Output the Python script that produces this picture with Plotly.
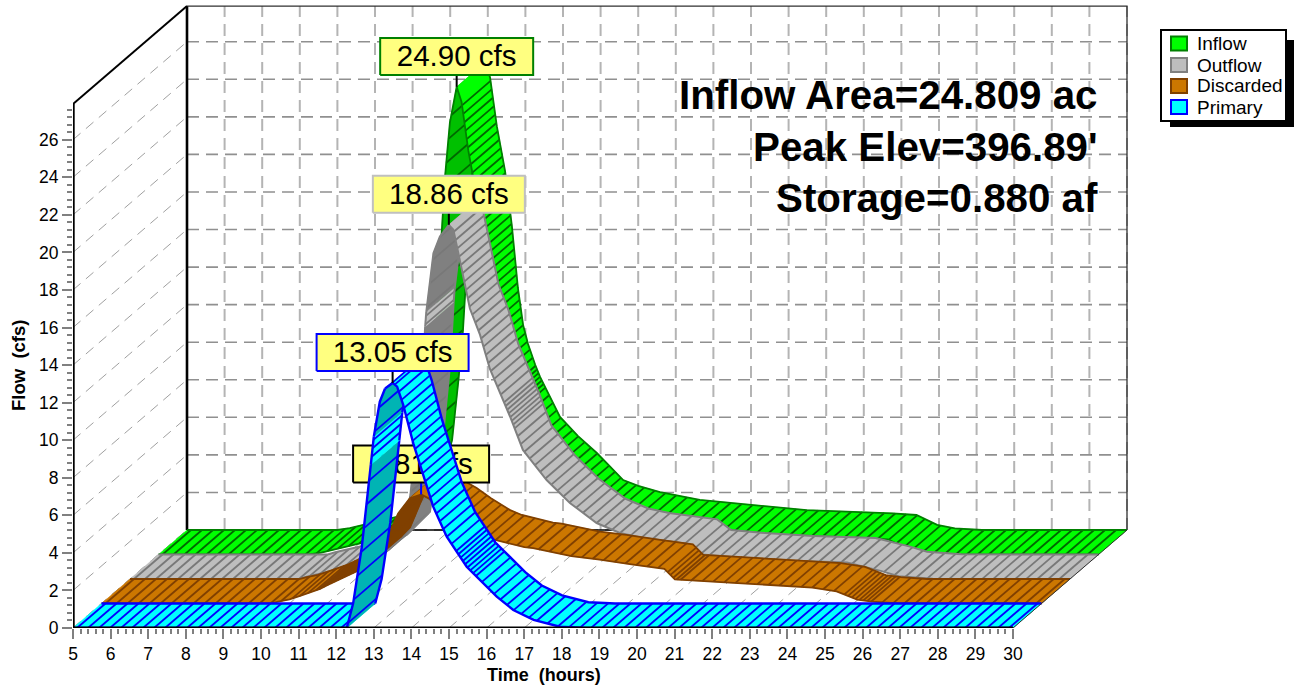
import numpy as np
import plotly.graph_objects as go

# ---------- data ----------
T_INFLOW = [5, 9.0, 9.33, 10.58, 11, 11.5, 11.8, 12.05, 12.22, 12.34, 12.53, 12.62, 12.66, 12.75, 12.93, 13.06, 13.24,
            13.46, 13.64, 13.8, 13.94, 14.07, 14.26, 14.39, 14.92, 15.4, 15.9, 16.6, 17.0, 17.58, 18.64, 20.02,
            21.48, 23.77, 24.4, 24.95, 25.42, 26.14, 30]
V_INFLOW = [0, 0, .1, .7, 1.0, 1.7, 3, 4.79, 8, 10.65, 17.45, 20.1, 21, 23, 24.9, 24.1, 21.5,
            19.1, 16.2, 12.9, 10.9, 9.9, 8.8, 8.15, 6.02, 5.0, 4.1, 2.66, 2.35, 2.02, 1.6, 1.33,
            1.06, .89, .8, .27, .09, 0, 0]
T_OUTFLOW = [5, 9.5, 9.7, 10.36, 11.0, 11.6, 12.22, 12.27, 12.45, 12.6, 12.75, 12.85, 12.88, 13.07, 13.24, 13.48, 13.6,
             13.78, 14.04, 14.31, 14.57, 15.11, 15.45, 16.08, 16.70, 17.41, 18.03, 18.58, 19.86, 20.23, 21.13, 22.42,
             24.07, 24.99, 25.44, 26.35, 30]
V_OUTFLOW = [0, 0, .12, .41, .72, 1.04, 2.28, 2.99, 4.38, 7, 10, 13.43, 14.23, 17.34, 18.23, 18.86, 18.6,
             16.9, 14.4, 13.0, 11.2, 8.64, 6.87, 5.27, 4.05, 2.98, 2.45, 2.21, 1.87, 1.30, 1.14, .99,
             .88, .42, .15, .01, 0]
T_DISCARDED = [5, 9.5, 9.7, 10.0, 10.3, 10.81, 11.03, 11.6, 11.82, 12.22, 12.45, 12.71, 12.89, 13.2, 13.5, 13.7, 13.95,
               14.22, 14.6, 15.11, 15.42, 16.25, 16.48, 17.5, 18.25, 19.1, 19.97, 20.25, 21.17, 22.26, 23.91, 24.55,
               25.1, 25.5, 26.2, 30]
V_DISCARDED = [0, 0, .1, .22, .42, .78, 1.0, 1.55, 1.75, 2.28, 2.75, 4.0, 4.8, 5.6, 5.81, 5.6, 5.15,
               4.85, 4.3, 3.67, 3.41, 3.0, 2.95, 2.52, 2.34, 2.08, 1.85, 1.28, 1.19, 1.05, .85, .65,
               .21, .1, 0, 0]
T_PRIMARY = [5, 12.28, 12.45, 12.68, 12.85, 12.92, 13.0, 13.16, 13.3, 13.5, 13.62, 13.78, 14.05, 14.32, 14.58, 14.94,
             15.47, 16.27, 16.71, 17.25, 17.95, 18.66, 30]
V_PRIMARY = [0, 0, 1.3, 4.3, 7.5, 8.68, 10.19, 12.05, 12.75, 13.05, 12.85, 11.9, 9.83, 8.06, 6.46, 4.86,
             3.26, 1.67, .96, .43, .07, 0, 0]

NAMES = ["Inflow", "Outflow", "Discarded", "Primary"]
PEAK_T = [12.93, 13.48, 13.5, 13.5]
PEAK_V = [24.90, 18.86, 5.81, 13.05]
X_TICKS = list(range(5, 31))
Y_TICKS = list(range(0, 27, 2))
NOTES = ["Inflow Area=24.809 ac", "Peak Elev=396.89'", "Storage=0.880 af"]

# ---------- styles / geometry ----------
W, H = 1294, 686
X0, Y0 = 73, 628            # pixel of (5 h, 0 cfs)
SX, SY = 37.6, 18.78        # pixels per hour / per cfs
DEPTH_PX = (28.5, 24.5)     # one ribbon's depth in pixels
LAYERS = 4
DX, DY = DEPTH_PX[0] / SX, DEPTH_PX[1] / SY
Y_TOP = 27.9
FONT = "Liberation Sans"

STYLE = {
    "Inflow":    dict(layer=3, fill="#00FF00", dark="#00C000", edge="#008000", hatch="#006800", ew=1.8, hw=1.8,
                      band=None, dense=[(14.2, 14.5)], box="#008000", lead="#000000"),
    "Outflow":   dict(layer=2, fill="#BEBEBE", dark="#808080", edge="#808080", hatch="#787878", ew=2, hw=1.8,
                      band=(12.85, 12.88), dense=[(14.9, 15.2)], box="#C0C0C0", lead="#000000"),
    "Discarded": dict(layer=1, fill="#CC7700", dark="#804000", edge="#804000", hatch="#804000", ew=1.8, hw=1.8,
                      band=None, dense=[(10.6, 11.8), (19.97, 20.3), (24.5, 25.4)], box="#000000", lead="#0000FF"),
    "Primary":   dict(layer=0, fill="#00FFFF", dark="#00B4B4", edge="#0000FF", hatch="#0000FF", ew=2.4, hw=1.8,
                      band=(12.92, 13.0), dense=[(15.1, 15.7)], box="#0000FF", lead="#000000"),
}
SERIES = {"Inflow": (T_INFLOW, V_INFLOW), "Outflow": (T_OUTFLOW, V_OUTFLOW),
          "Discarded": (T_DISCARDED, V_DISCARDED), "Primary": (T_PRIMARY, V_PRIMARY)}
BOX_W = {"Inflow": 153, "Outflow": 152, "Discarded": 136, "Primary": 152}
BOX_H, BOX_GAP = 37, 12


def line(xs, ys, color, width, dash=None):
    return go.Scatter(x=xs, y=ys, mode="lines", line=dict(color=color, width=width, dash=dash),
                      hoverinfo="skip", showlegend=False, cliponaxis=False)


fig = go.Figure()

# ---------- walls and floor ----------
dep_x, dep_y = LAYERS * DX, LAYERS * DY
gx, gy = [], []
for v in Y_TICKS:
    gx += [5 + dep_x, 30 + dep_x, None]
    gy += [v + dep_y, v + dep_y, None]
fig.add_trace(line(gx, gy, "#909090", 1.6, "12px,7px"))
gx, gy = [], []
for t in X_TICKS:
    gx += [t + dep_x, t + dep_x, None]
    gy += [dep_y, Y_TOP + dep_y, None]
fig.add_trace(line(gx, gy, "#B4B4B4", 2, "12px,7px"))
gx, gy = [], []
for v in Y_TICKS:
    gx += [5, 5 + dep_x, None]
    gy += [v, v + dep_y, None]
for t in X_TICKS:
    gx += [t, t + dep_x, None]
    gy += [0, dep_y, None]
fig.add_trace(line(gx, gy, "#A0A0A0", 1, "10px,7px"))
fig.add_trace(line([5 + dep_x, 5 + dep_x], [dep_y, Y_TOP + dep_y], "#000000", 2.6))
fig.add_trace(line([5 + dep_x, 30 + dep_x, 30 + dep_x], [Y_TOP + dep_y, Y_TOP + dep_y, dep_y], "#303030", 1.3))
fig.add_trace(line([5 + dep_x, 30 + dep_x], [dep_y, dep_y], "#000000", 1.6))
fig.add_trace(line([5, 5 + dep_x], [Y_TOP, Y_TOP + dep_y], "#000000", 2))


# ---------- ribbons ----------
def faces(t, v, band):
    """True for each segment whose upper surface faces the viewer."""
    dt, dv = np.diff(t) * SX, np.diff(v) * SY
    light = dt * DEPTH_PX[1] - dv * DEPTH_PX[0] >= 0
    if band:
        light = light | ((t[:-1] >= band[0] - 1e-9) & (t[1:] <= band[1] + 1e-9))
    return light


def runs(mask):
    out, i = [], 0
    while i < len(mask):
        j = i
        while j + 1 < len(mask) and mask[j + 1] == mask[i]:
            j += 1
        out.append((i, j + 1, bool(mask[i])))
        i = j + 1
    return out


def hatch_positions(t, v, light, dense):
    """Walk along the curve in pixels and return the hatch stations (segment, t, v)."""
    dt, dv = np.diff(t) * SX, np.diff(v) * SY
    seg = np.hypot(dt, dv)
    arc = np.concatenate([[0], np.cumsum(seg)])
    pos = []
    s = 4.0
    while s < arc[-1]:
        i = min(int(np.searchsorted(arc, s, side="right")) - 1, len(seg) - 1)
        f = (s - arc[i]) / seg[i]
        ht, hv = t[i] + f * (t[i + 1] - t[i]), v[i] + f * (v[i + 1] - v[i])
        pos.append((i, ht, hv))
        if not light[i]:
            s += 24
        elif any(a <= ht <= b for a, b in dense):
            s += 4
        elif abs(dv[i]) > 0.3 * dt[i]:
            s += 8.5
        else:
            s += 11
    return pos


for name in NAMES:
    st = STYLE[name]
    t = np.array(SERIES[name][0], float)
    v = np.array(SERIES[name][1], float)
    fx, fy = t + st["layer"] * DX, v + st["layer"] * DY
    bx, by = fx + DX, fy + DY
    light = faces(t, v, st["band"])
    hp = hatch_positions(t, v, light, st["dense"])
    # painted in time order: each later stretch covers the earlier ones
    for a, b, is_light in runs(light):
        color = st["fill"] if is_light else st["dark"]
        fig.add_trace(go.Scatter(x=list(fx[a:b + 1]) + list(bx[a:b + 1][::-1]) + [fx[a]],
                                 y=list(fy[a:b + 1]) + list(by[a:b + 1][::-1]) + [fy[a]],
                                 mode="lines", fill="toself", fillcolor=color,
                                 line=dict(color=color, width=0.5), hoverinfo="skip",
                                 showlegend=False, cliponaxis=False, name=name))
        hx, hy = [], []
        for i, ht, hv in hp:
            if a <= i < b:
                x0, y0 = ht + st["layer"] * DX, hv + st["layer"] * DY
                hx += [x0, x0 + DX, None]
                hy += [y0, y0 + DY, None]
        if hx:
            fig.add_trace(line(hx, hy, st["hatch"], st["hw"]))
        fig.add_trace(line(list(fx[a:b + 1]) + [None] + list(bx[a:b + 1]),
                           list(fy[a:b + 1]) + [None] + list(by[a:b + 1]), st["edge"], st["ew"]))

    # peak label, drawn here so that nearer ribbons can cover it
    k = NAMES.index(name)
    pk_x = PEAK_T[k] + st["layer"] * DX
    pk_y = PEAK_V[k] + st["layer"] * DY
    hw = BOX_W[name] / 2 / SX
    y_lo = pk_y + BOX_GAP / SY
    y_hi = y_lo + BOX_H / SY
    fig.add_trace(line([pk_x, pk_x], [pk_y, y_lo], st["lead"], 2))
    fig.add_trace(go.Scatter(x=[pk_x - hw, pk_x + hw, pk_x + hw, pk_x - hw, pk_x - hw],
                             y=[y_lo, y_lo, y_hi, y_hi, y_lo], mode="lines", fill="toself",
                             fillcolor="#FFFF80", line=dict(color=st["box"], width=2),
                             hoverinfo="skip", showlegend=False, cliponaxis=False))
    fig.add_trace(go.Scatter(x=[pk_x], y=[(y_lo + y_hi) / 2 - 2.5 / SY], mode="text",
                             text=[f"{PEAK_V[k]:.2f} cfs"], textposition="middle center",
                             textfont=dict(family=FONT, size=29.5, color="#000000"),
                             hoverinfo="skip", showlegend=False, cliponaxis=False))

# ---------- front axis lines, over the ribbons ----------
fig.add_trace(line([5, 5], [0, Y_TOP], "#000000", 3.4))
fig.add_trace(line([5, 30], [0, 0], "#000000", 3))
fig.add_trace(line([30, 30 + dep_x], [0, dep_y], "#303030", 1))

# ---------- axes ----------
tick_c = "#808080"
fig.update_xaxes(range=[5, 5 + (W - X0) / SX], tickmode="array", tickvals=X_TICKS,
                 ticktext=[str(t) for t in X_TICKS], ticks="outside", ticklen=10, tickwidth=2, tickcolor=tick_c,
                 tickfont=dict(family=FONT, size=17.5, color="#000000"), tickangle=0,
                 showgrid=False, zeroline=False, showline=False, automargin=False,
                 minor=dict(tickmode="array", tickvals=[round(x, 1) for x in np.arange(5, 30.01, 0.2)],
                            ticks="outside", ticklen=5, tickwidth=2, tickcolor=tick_c, showgrid=False))
fig.update_yaxes(range=[0, Y0 / SY], tickmode="array", tickvals=Y_TICKS,
                 ticktext=[str(v) for v in Y_TICKS], ticks="outside", ticklen=10, tickwidth=2, tickcolor=tick_c,
                 tickfont=dict(family=FONT, size=17.5, color="#000000"),
                 showgrid=False, zeroline=False, showline=False, automargin=False,
                 minor=dict(tickmode="array", tickvals=[round(x, 1) for x in np.arange(0, Y_TOP, 0.4)],
                            ticks="outside", ticklen=5, tickwidth=2, tickcolor=tick_c, showgrid=False))


def px(x):
    return (x - X0) / (W - X0)


def py(y):
    return (Y0 - y) / Y0


ann = []
shapes = []
for txt, y in zip(NOTES, (96, 147, 198)):
    ann.append(dict(x=px(1100), y=py(y), xref="paper", yref="paper", text=f"<b>{txt}</b>", showarrow=False,
                    xanchor="right", yanchor="middle", font=dict(family=FONT, size=40.3, color="#000000")))
ann.append(dict(x=px(544), y=py(675), xref="paper", yref="paper", text="<b>Time\u00a0\u00a0(hours)</b>",
                showarrow=False, xanchor="center", yanchor="middle", font=dict(family=FONT, size=18, color="#000000")))
ann.append(dict(x=px(18), y=py(366), xref="paper", yref="paper", text="<b>Flow\u00a0\u00a0(cfs)</b>", textangle=-90,
                showarrow=False, xanchor="center", yanchor="middle", font=dict(family=FONT, size=18.5, color="#000000")))

# legend panel
shapes.append(dict(type="rect", xref="paper", yref="paper", x0=px(1170), x1=px(1294), y0=py(127), y1=py(40),
                   fillcolor="#000000", line=dict(width=0), layer="above"))
shapes.append(dict(type="rect", xref="paper", yref="paper", x0=px(1161), x1=px(1286), y0=py(121), y1=py(30),
                   fillcolor="#FFFFFF", line=dict(color="#000000", width=2), layer="above"))
for name, yc in zip(NAMES, (43.5, 65, 86, 107)):
    st = STYLE[name]
    shapes.append(dict(type="rect", xref="paper", yref="paper", x0=px(1171), x1=px(1187), y0=py(yc + 7), y1=py(yc - 7),
                       fillcolor=st["fill"], line=dict(color=st["edge"], width=2), layer="above"))
    ann.append(dict(x=px(1195), y=py(yc), xref="paper", yref="paper", text=name, showarrow=False,
                    xanchor="left", yanchor="middle", font=dict(family=FONT, size=19, color="#000000")))

fig.update_layout(width=W, height=H, margin=dict(l=X0, r=0, t=0, b=H - Y0, pad=0), showlegend=False,
                  paper_bgcolor="#FFFFFF", plot_bgcolor="#FFFFFF", shapes=shapes, annotations=ann,
                  font=dict(family=FONT), hovermode=False)
fig.write_html("out.html", config={"displayModeBar": False},
               post_script="document.body.style.margin='0';document.body.style.overflow='hidden';")
